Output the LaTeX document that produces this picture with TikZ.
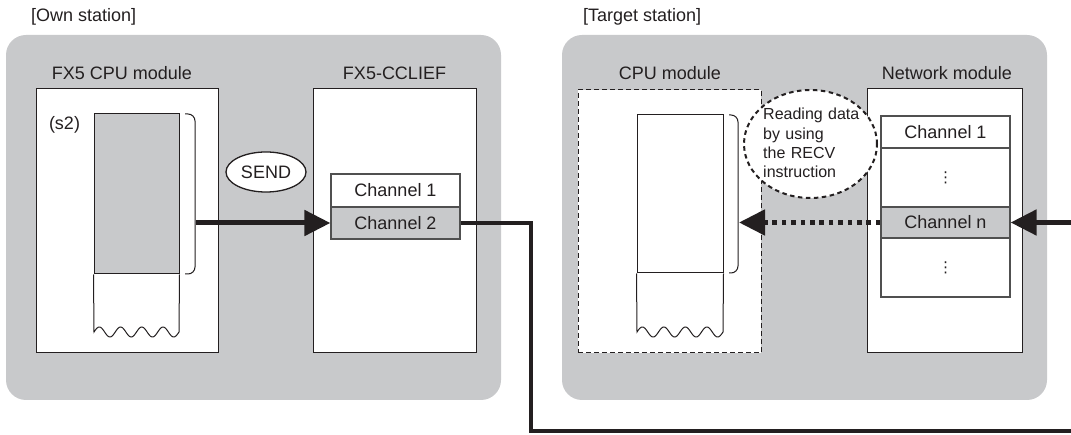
\documentclass[tikz,border=0pt]{standalone}
\usepackage{fontspec}
\setmainfont{Liberation Sans}
\newfontfamily\dotsfont{DejaVu Sans}
\usetikzlibrary{arrows.meta,shapes.geometric}
\definecolor{panel}{HTML}{C8C9CB}
\definecolor{ink}{HTML}{231F20}
\definecolor{chline}{HTML}{505050}
\tikzset{
  lbl/.style={font=\fontsize{18}{22}\selectfont, text=ink, inner sep=0pt},
  panelbox/.style={fill=panel, draw=none, rounded corners=20pt, inner sep=0pt},
  modbox/.style={draw=ink, fill=white, line width=1pt, inner sep=0pt},
  dashbox/.style={draw=ink, fill=white, line width=1pt, dash pattern=on 5pt off 3pt, inner sep=0pt},
  chbox/.style={draw=chline, line width=1.2pt, minimum width=129pt, inner sep=0pt, font=\fontsize{18}{22}\selectfont, text=ink},
  dotsbox/.style={chbox, fill=white, minimum height=59pt, font=\dotsfont\fontsize{15}{16}\selectfont},
  colbox/.style={draw=ink, line width=1pt, inner sep=0pt},
  thin/.style={draw=ink, line width=1pt},
  bigarrow/.style={draw=ink, line width=5pt, -{Triangle[length=26pt,width=25pt]}},
  dotarrow/.style={draw=ink, line width=5pt, dash pattern=on 4.7pt off 4.7pt, -{Triangle[length=26pt,width=25pt]}},
  netline/.style={draw=ink, line width=4.5pt},
}
\begin{document}
\begin{tikzpicture}[x=1pt,y=-1pt]
\useasboundingbox (0,0) rectangle (1071,435);

% ---------- station titles
\node[lbl, anchor=base west] (ownt) at (31,22) {[Own station]};
\node[lbl, anchor=base west] (tgtt) at (583,22) {[Target station]};

% ---------- grey panels
\node[panelbox, minimum width=495pt, minimum height=365pt] (ownpanel) at (253.5,217.5) {};
\node[panelbox, minimum width=485pt, minimum height=365pt] (tgtpanel) at (804.5,217.5) {};

% ---------- own station: FX5 CPU module
\node[modbox, minimum width=182pt, minimum height=264pt] (fxcpu) at (127,221) {};
\node[lbl, anchor=base] (fxcpul) at (122,80) {FX5 CPU module};
\node[lbl, anchor=base] (s2) at (64.5,130) {(s2)};
\node[colbox, fill=panel, minimum width=85pt, minimum height=160pt] (colL) at (136.5,194) {};
\draw[thin] (colL.south west) -- (94,332)
  -- plot[domain=0:85, samples=120] ({94+\x},{332-5*sin(\x/21.25*360)})
  -- (colL.south east);
\draw[thin, rounded corners=7pt] (185,114) -- (195,114) -- (195,274) -- (185,274);
\coordinate (brL) at (196,223);

% ---------- own station: FX5-CCLIEF
\node[modbox, minimum width=163pt, minimum height=264pt] (cclief) at (394.5,221) {};
\node[lbl, anchor=base] (ccliefl) at (394.5,80) {FX5-CCLIEF};
\node[chbox, fill=white, minimum height=33pt] (ch1) at (395.5,190.5) {Channel 1};
\node[chbox, fill=panel, minimum height=32pt] (ch2) at (395.5,223) {Channel 2};

% SEND
\node[ellipse, draw=ink, fill=white, line width=1.3pt, minimum width=80pt, minimum height=40pt, lbl] (send) at (266,172) {SEND};

\draw[bigarrow] (brL) -- (ch2.west);

% ---------- target station: CPU module
\node[dashbox, minimum width=183pt, minimum height=263pt] (tcpu) at (669.5,221.5) {};
\node[lbl, anchor=base] (tcpul) at (670,80) {CPU module};
\node[colbox, fill=white, minimum width=86pt, minimum height=158pt] (colR) at (680,194) {};
\draw[thin] (colR.south west) -- (637,332)
  -- plot[domain=0:86, samples=120] ({637+\x},{332-5*sin(\x/21.5*360)})
  -- (colR.south east);
\draw[thin, rounded corners=7pt] (729,115) -- (738,115) -- (738,273) -- (729,273);
\coordinate (brR) at (739,222.5);

% ---------- target station: Network module
\node[modbox, minimum width=155pt, minimum height=264pt] (netm) at (944.5,221) {};
\node[lbl, anchor=base] (netml) at (947,80) {Network module};
\node[chbox, fill=white, minimum height=32pt] (chr1) at (945.5,132) {Channel 1};
\node[dotsbox] (dots1) at (945.5,177.5) {⋮};
\node[chbox, fill=panel, minimum height=31pt] (chn) at (945.5,222.5) {Channel n};
\node[dotsbox] (dots2) at (945.5,267.5) {⋮};

% RECV bubble
\node[ellipse, draw=ink, fill=white, line width=2pt, dash pattern=on 4.5pt off 3.5pt, minimum width=133pt, minimum height=108pt, inner sep=0pt] (recv) at (810.5,144) {};
\node[anchor=base west, inner sep=0pt, text width=120pt, align=left, text=ink,
      font=\fontsize{16}{19.1}\selectfont] (recvt) at (763,120)
  {Reading data\\by using\\the RECV\\instruction};

\draw[dotarrow] (chn.west) -- (brR);

% ---------- network line
\coordinate (inR) at (1071,222.5);
\draw[bigarrow] (inR) -- (chn.east);
\coordinate (lineend) at (1071,431);
\draw[netline] (ch2.east) -| (531,431) -- (lineend);
\end{tikzpicture}
\end{document}
